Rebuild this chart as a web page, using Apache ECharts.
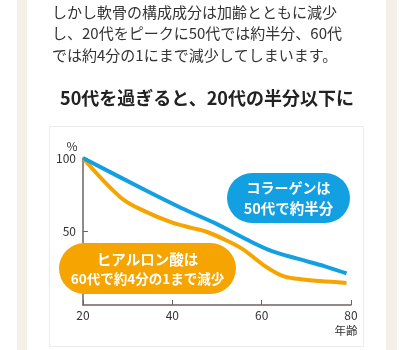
<!DOCTYPE html>
<html><head><meta charset="utf-8">
<script src="https://cdn.jsdelivr.net/npm/echarts@6/dist/echarts.min.js"></script>
<style>html,body{margin:0;padding:0;background:#fff;}#c{width:414px;height:350px;}</style>
</head><body><div id="c"></div>
<script>
// Data
var introLines = ['しかし軟骨の構成成分は加齢とともに減少', 'し、20代をピークに50代では約半分、60代', 'では約4分の1にまで減少してしまいます。'];
var heading = '50代を過ぎると、20代の半分以下に';
var xTicks = [20, 40, 60, 80];
var yTicks = [50, 100];
var collagenAge = [20, 34, 42, 50, 57, 62, 68, 74, 79];
var collagenVal = [100, 78, 66, 55, 44, 37, 31.5, 26.5, 21.5];
var hyaluronAge = [20, 28.5, 34, 40, 44.5, 47.5, 51, 55.5, 60.5, 64.5, 68, 73, 79];
var hyaluronVal = [100, 73, 63.5, 56, 52.3, 50, 45.5, 38.5, 27, 20, 17.8, 16.3, 15];
var collagenLabel = ['コラーゲンは', '50代で約半分'];
var hyaluronLabel = ['ヒアルロン酸は', '60代で約4分の1まで減少'];
var xName = '年齢', yName = '%';

function zip(a, b) { return a.map(function (v, i) { return [v, b[i]]; }); }
var FONT = '"Noto Sans CJK JP", "Noto Sans", sans-serif';
var BLUE = '#12a0e2', ORANGE = '#f5a400', AXIS = '#6d6360';

var chart = echarts.init(document.getElementById('c'), null, {renderer: 'canvas'});
var graphics = [
  {type: 'rect', z: -10, shape: {x: 17, y: 0, width: 10, height: 350}, style: {fill: '#f4f0e6'}, silent: true},
  {type: 'rect', z: -10, shape: {x: 386, y: 0, width: 11, height: 350}, style: {fill: '#f4f0e6'}, silent: true},
  {type: 'rect', z: -10, shape: {x: 49.5, y: 126.5, width: 314, height: 220}, style: {fill: 'none', stroke: '#ececec', lineWidth: 1}, silent: true},
  {type: 'text', z: 10, style: {text: heading, x: 207, y: 98, textAlign: 'center', textVerticalAlign: 'middle', font: 'bold 18px ' + FONT, fill: '#222'}},
  {type: 'text', z: 10, style: {text: yName, x: 72, y: 146, textAlign: 'center', textVerticalAlign: 'middle', font: '12px ' + FONT, fill: '#333'}},
  {type: 'text', z: 10, style: {text: xName, x: 346, y: 331, textAlign: 'center', textVerticalAlign: 'middle', font: '11.5px ' + FONT, fill: '#333'}},
  {type: 'rect', z: 100, shape: {x: 227, y: 173, width: 123, height: 50, r: 25}, style: {fill: BLUE}},
  {type: 'text', z: 101, style: {text: collagenLabel[0], x: 288.5, y: 188, textAlign: 'center', textVerticalAlign: 'middle', font: 'bold 14px ' + FONT, fill: '#fff'}},
  {type: 'text', z: 101, style: {text: collagenLabel[1], x: 288.5, y: 208, textAlign: 'center', textVerticalAlign: 'middle', font: 'bold 14.5px ' + FONT, fill: '#fff'}},
  {type: 'rect', z: 100, shape: {x: 59, y: 243, width: 177, height: 51, r: 25.5}, style: {fill: ORANGE}},
  {type: 'text', z: 101, style: {text: hyaluronLabel[0], x: 147.5, y: 259, textAlign: 'center', textVerticalAlign: 'middle', font: 'bold 14.5px ' + FONT, fill: '#fff'}},
  {type: 'text', z: 101, style: {text: hyaluronLabel[1], x: 147.5, y: 279, textAlign: 'center', textVerticalAlign: 'middle', font: 'bold 13.5px ' + FONT, fill: '#fff'}}
];
introLines.forEach(function (t, i) {
  graphics.push({type: 'text', z: 10, style: {text: t, x: 52, y: 12 + i * 21.5, textAlign: 'left', textVerticalAlign: 'middle', font: '15px ' + FONT, fill: '#333'}});
});

chart.setOption({
  animation: false,
  backgroundColor: '#fff',
  grid: {left: 83, right: 63, top: 158, bottom: 45},
  xAxis: {
    type: 'value', min: 20, max: 80, interval: 20,
    axisLine: {lineStyle: {color: AXIS, width: 1.5}},
    axisTick: {inside: true, length: 5, lineStyle: {color: AXIS}},
    axisLabel: {color: '#333', fontSize: 12, margin: 4, fontFamily: FONT},
    splitLine: {show: false}
  },
  yAxis: {
    type: 'value', min: 0, max: 100, interval: 50,
    axisLine: {show: true, lineStyle: {color: AXIS, width: 1.5}},
    axisTick: {show: true, inside: true, length: 5, lineStyle: {color: AXIS}},
    axisLabel: {color: '#333', fontSize: 12, margin: 7, fontFamily: FONT, showMinLabel: false,
      formatter: function (v) { return yTicks.indexOf(v) >= 0 ? String(v) : ''; }},
    splitLine: {show: false}
  },
  series: [
    {type: 'line', data: zip(hyaluronAge, hyaluronVal), smooth: 0.35, showSymbol: false, lineStyle: {color: ORANGE, width: 4}, itemStyle: {color: ORANGE}},
    {type: 'line', data: zip(collagenAge, collagenVal), smooth: 0.3, showSymbol: false, lineStyle: {color: BLUE, width: 4}, itemStyle: {color: BLUE}}
  ],
  graphic: graphics
});
</script></body></html>
